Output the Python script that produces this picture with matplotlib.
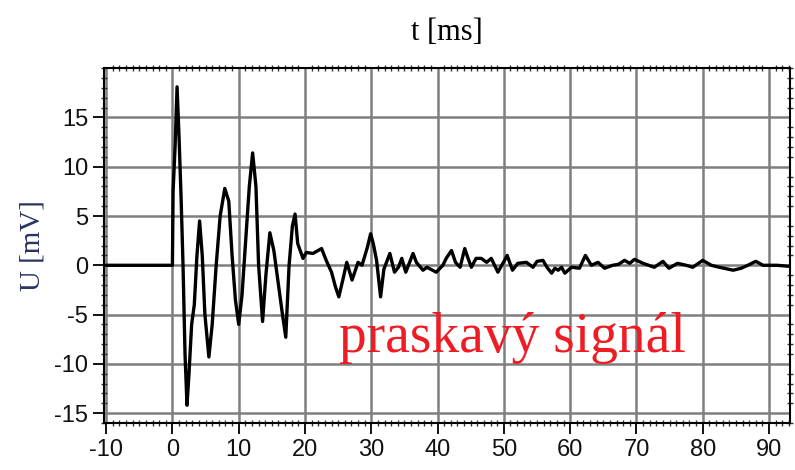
import numpy as np
import matplotlib
matplotlib.use("Agg")
import matplotlib.pyplot as plt
from matplotlib.ticker import MultipleLocator

plt.rcParams["axes.unicode_minus"] = False

# time [ms] and voltage [mV] of the recorded crackle
t_ms = [-10, 0.0, 0.1, 0.4, 0.7, 1.0, 1.3, 1.6, 1.9, 2.2, 2.5, 2.9, 3.3, 3.7, 4.1,
        4.5, 4.9, 5.5, 6.0, 6.6, 7.2, 7.9, 8.5, 9.0, 9.5, 10.0, 10.5, 11.0, 11.6,
        12.1, 12.6, 13.0, 13.6, 14.1, 14.7, 15.3, 15.9, 16.5, 17.1, 17.6, 18.1,
        18.5, 18.9, 19.7, 20.2, 21.2, 22.5, 23.2, 24.0, 24.6, 25.1, 25.7, 26.3,
        27.1, 28.0, 28.6, 29.4, 29.9, 30.3, 30.8, 31.4, 31.9, 32.8, 33.5, 34.1,
        34.6, 35.2, 36.3, 36.8, 37.8, 38.4, 39.8, 40.8, 41.3, 42.1, 42.7, 43.4,
        44.1, 44.6, 45.1, 45.8, 46.6, 47.4, 48.1, 49.1, 50.1, 50.5, 51.3, 52.1,
        53.4, 54.4, 55.0, 55.9, 56.5, 57.2, 57.7, 58.2, 58.7, 59.2, 60.2, 61.4,
        62.3, 63.2, 64.2, 65.2, 66.4, 67.3, 68.2, 69.0, 69.7, 71.0, 72.7, 74.0,
        74.9, 76.2, 77.5, 78.5, 80.0, 81.3, 82.5, 84.6, 85.8, 86.8, 88.0, 89.1,
        91.2, 93.0]
u_mv = [0, 0, 7.5, 12, 18.1, 13, 7, 0, -9, -14.2, -11, -6, -4, 1, 4.5,
        1, -5, -9.3, -6, 0, 5, 7.8, 6.5, 1, -3.5, -6.0, -3, 2, 8,
        11.4, 8, 0, -5.7, -1, 3.3, 1.5, -1.5, -4.5, -7.3, 0, 4,
        5.2, 2.2, 0.7, 1.3, 1.2, 1.7, 0.5, -0.7, -2.2, -3.2, -1.5, 0.3,
        -1.5, 0.3, 0, 1.8, 3.2, 2.2, 0.5, -3.2, -0.4, 1.2, -0.7, -0.2,
        0.7, -0.7, 1.2, 0.3, -0.5, -0.2, -0.7, 0, 0.7, 1.5, 0.3, -0.2,
        1.7, 0.7, -0.2, 0.7, 0.7, 0.3, 0.7, -0.7, 0.5, 1.0, -0.5, 0.2,
        0.3, -0.2, 0.4, 0.5, -0.2, -0.8, -0.3, -0.5, -0.2, -0.8, -0.2, -0.3,
        1.0, 0.0, 0.3, -0.3, 0.0, 0.1, 0.5, 0.2, 0.6, 0.2, -0.2, 0.4,
        -0.3, 0.2, 0.0, -0.2, 0.5, 0.0, -0.2, -0.5, -0.3, 0.0, 0.4, 0.0,
        0.0, -0.1]

x_ticks = [-10, 0, 10, 20, 30, 40, 50, 60, 70, 80, 90]
y_ticks = [-15, -10, -5, 0, 5, 10, 15]

fig = plt.figure(figsize=(7.95, 4.7), dpi=100)
ax = fig.add_axes([0.131, 0.1, 0.863, 0.755])

ax.plot(t_ms, u_mv, color="black", lw=2.4, zorder=3)

ax.set_xlim(-10.3, 93.2)
ax.set_ylim(-16, 20)
ax.set_xticks(x_ticks)
ax.set_yticks(y_ticks)
ax.xaxis.set_minor_locator(MultipleLocator(1))
ax.yaxis.set_minor_locator(MultipleLocator(1))
ax.grid(True, which="major", color="#7f7f7f", lw=1.8, zorder=1)

ax.tick_params(which="major", direction="out", length=8, width=1.4,
               labelsize=17, colors="#111111", top=False, right=False)
ax.tick_params(which="minor", direction="inout", length=5, width=1.0,
               top=True, right=True, color="#333333")
for lab in ax.get_xticklabels() + ax.get_yticklabels():
    lab.set_family("Liberation Sans")
for sp in ax.spines.values():
    sp.set_linewidth(1.5)
    sp.set_color("black")

ax.xaxis.set_label_position("top")
ax.set_xlabel("t [ms]", family="Liberation Serif", fontsize=22, labelpad=18)
ax.set_ylabel("U [mV]", family="Liberation Serif", fontsize=21,
              color="#2a3560", labelpad=6)

ax.text(25.2, -8.8, "praskavý signál", family="Liberation Serif",
        fontsize=40, color="#ee1c24", ha="left", va="baseline", zorder=4)

fig.savefig("out.png", dpi=100)
